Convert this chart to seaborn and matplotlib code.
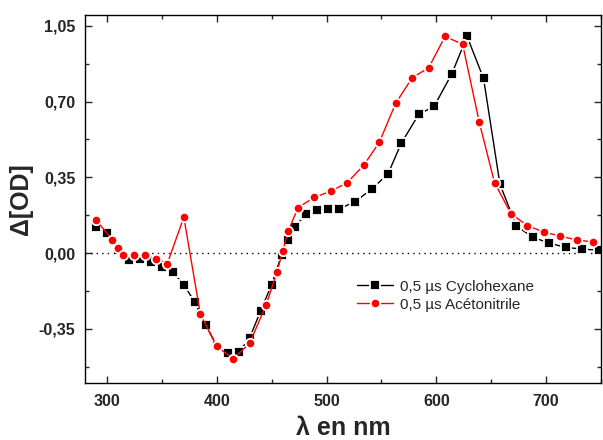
import seaborn as sns
import pandas as pd
import numpy as np
from matplotlib import pyplot as plt
from matplotlib.ticker import MultipleLocator, FuncFormatter

# Cyclohexane series (black squares)
wl_cyclo = [290, 300, 310, 320, 330, 340, 350, 360, 370, 380, 390, 400, 410, 420, 430, 440, 450,
            459, 465, 471, 481, 491, 501, 511, 526, 541, 556,
            568, 584, 598, 614, 628, 643, 658, 673, 688, 703, 718, 733, 748]
od_cyclo = [0.119, 0.091, 0.014, -0.031, -0.029, -0.040, -0.064, -0.089, -0.145, -0.227, -0.332,
            -0.428, -0.460, -0.459, -0.391, -0.266, -0.145,
            -0.009, 0.060, 0.121, 0.179, 0.199, 0.204, 0.203, 0.238, 0.295, 0.366,
            0.507, 0.641, 0.678, 0.827, 1.001, 0.807, 0.317, 0.125, 0.073, 0.046, 0.026, 0.019, 0.013]

# Acetonitrile series (red circles)
wl_aceto = [290, 305, 310, 315, 325, 335, 345, 355, 370, 385, 400, 415, 430, 445, 455, 460, 465,
            474, 489, 504, 519, 534, 548, 563, 578, 593, 608, 624, 639, 653, 668, 683, 698, 713, 728, 743]
od_aceto = [0.154, 0.060, 0.023, -0.011, -0.009, -0.011, -0.026, -0.048, 0.166, -0.281, -0.431,
            -0.488, -0.416, -0.238, -0.085, 0.009, 0.101,
            0.210, 0.258, 0.286, 0.326, 0.407, 0.511, 0.692, 0.810, 0.856, 1.001, 0.964, 0.607,
            0.325, 0.182, 0.127, 0.097, 0.079, 0.060, 0.052]

labels = ['0,5 µs Cyclohexane', '0,5 µs Acétonitrile']

df = pd.concat([
    pd.DataFrame({'wl': wl_cyclo, 'od': od_cyclo, 'serie': labels[0]}),
    pd.DataFrame({'wl': wl_aceto, 'od': od_aceto, 'serie': labels[1]}),
])

sns.set_style('ticks')
plt.rcParams['font.family'] = ['Liberation Sans', 'DejaVu Sans']

fig = plt.figure(figsize=(6.03, 4.40), dpi=100)
ax = fig.add_axes([0.141, 0.1295, 0.8557, 0.8365])

ax.axhline(0, color='black', linestyle=(0, (1, 3)), linewidth=1.0, zorder=1)

sns.lineplot(
    data=df, x='wl', y='od', hue='serie', style='serie',
    palette={labels[0]: 'black', labels[1]: '#ff0000'},
    markers={labels[0]: 's', labels[1]: 'o'}, dashes=False,
    markersize=6.8, markeredgecolor='white', markeredgewidth=1.3,
    linewidth=1.0, ax=ax, estimator=None, sort=False
)

ax.set_xlim(280, 750)
ax.set_ylim(-0.60, 1.10)
ax.xaxis.set_major_locator(MultipleLocator(100))
ax.xaxis.set_minor_locator(MultipleLocator(50))
ax.yaxis.set_major_locator(MultipleLocator(0.35))
ax.yaxis.set_minor_locator(MultipleLocator(0.175))
ax.yaxis.set_major_formatter(FuncFormatter(lambda v, p: '{:.2f}'.format(v).replace('.', ',')))

ax.tick_params(which='both', direction='in', top=True, right=True, width=1.0)
ax.tick_params(which='major', length=5, labelsize=11.5)
ax.tick_params(axis='x', which='major', pad=8)
ax.tick_params(axis='y', which='major', pad=7)
ax.tick_params(which='minor', length=3)
for lab in ax.get_xticklabels() + ax.get_yticklabels():
    lab.set_fontweight('bold')
for s in ax.spines.values():
    s.set_linewidth(1.0)
    s.set_color('black')

ax.set_xlabel('λ en nm', fontsize=18, fontweight='bold', labelpad=5)
ax.set_ylabel('Δ[OD]', fontsize=18, fontweight='bold', labelpad=4)

ax.legend(frameon=False, fontsize=11, loc='upper left', bbox_to_anchor=(0.5, 0.318),
          handlelength=2.4, handletextpad=0.4, labelspacing=0.25)

fig.savefig('out.png', dpi=100)
